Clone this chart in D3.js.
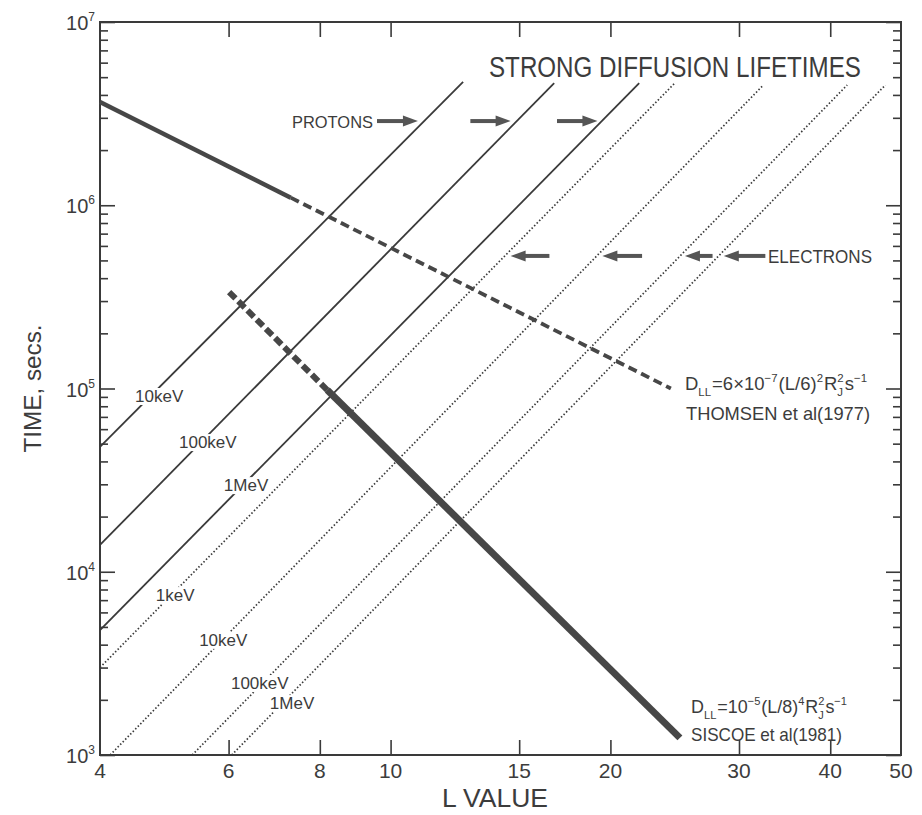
<!DOCTYPE html>
<html>
<head>
<meta charset="utf-8">
<script src="https://cdn.jsdelivr.net/npm/d3@7"></script>
<style>
  body { margin: 0; background: #fff; }
  text { font-family: "Liberation Sans", Arial, sans-serif; fill: #3c3c3c; }
</style>
</head>
<body>
<script>
// values
const lTicks = [6, 8, 10, 15, 20, 30, 40];
const lLabels = [4, 6, 8, 10, 15, 20, 30, 40, 50];
const timeExps = [3, 4, 5, 6, 7];

const protonNames = ['10keV', '100keV', '1MeV'];
const protonStart = [[4, 4.8e4], [4, 1.4e4], [4, 4.8e3]];
const protonEnd = [[12.57, 4.71e6], [16.75, 4.64e6], [21.9, 4.64e6]];
const protonLabelAt = [[4.82, 9.1e4], [5.62, 5.1e4], [6.34, 2.97e4]];

const electronNames = ['1keV', '10keV', '100keV', '1MeV'];
const electronStart = [[4, 3.0e3], [4.13, 1e3], [5.35, 1e3], [6.06, 1e3]];
const electronEnd = [[24.5, 4.64e6], [32.4, 4.53e6], [42.2, 4.53e6], [47.6, 4.53e6]];
const electronLabelAt = [[5.07, 7.46e3], [5.9, 4.25e3], [6.62, 2.47e3], [7.33, 1.92e3]];

const thomsenSolid = [[4, 3.66e6], [7.3, 1.10e6]];
const thomsenDashed = [[7.3, 1.10e6], [24.2, 1.0e5]];
const siscoeDashed = [[6.01, 3.36e5], [8.19, 9.8e4]];
const siscoeSolid = [[8.19, 9.8e4], [24.9, 1.24e3]];

// arrows: [tail L, head L]
const protonArrowTime = 2.88e6;
const protonArrows = [[9.58, 10.9], [12.86, 14.6], [16.9, 19.2]];
const electronArrowTime = 5.29e5;
const electronArrows = [[16.5, 14.6], [22.1, 19.5], [27.6, 25.3], [32.6, 28.6]];

const width = 922, height = 815;
const padLeft = 100, padRight = 901, padTop = 22, padBottom = 755;
const ink = '#3a3a3a';

let svg = d3.select('body').append('svg')
  .attr('width', width).attr('height', height);

let x = d3.scaleLog().domain([4, 50]).range([padLeft, padRight]);
let y = d3.scaleLog().domain([1e3, 1e7]).range([padBottom, padTop]);

let line = d3.line().x(d => x(d[0])).y(d => y(d[1]));

// ---- ticks (inward on all four sides)
let yAll = y.ticks();
let yMajor = yAll.filter(v => Math.abs(Math.log10(v) - Math.round(Math.log10(v))) < 1e-9);
let yMinor = yAll.filter(v => yMajor.indexOf(v) < 0);

let tickAxis = (axis, tr) => {
  let g = svg.append('g').attr('transform', tr).call(axis);
  g.select('.domain').remove();
  g.selectAll('line').attr('stroke', ink).attr('stroke-width', 1.6);
};
tickAxis(d3.axisBottom(x).tickValues(lTicks).tickSize(-15).tickFormat(''), `translate(0,${padBottom})`);
tickAxis(d3.axisTop(x).tickValues(lTicks).tickSize(-15).tickFormat(''), `translate(0,${padTop})`);
tickAxis(d3.axisLeft(y).tickValues(yMinor).tickSize(-8).tickFormat(''), `translate(${padLeft},0)`);
tickAxis(d3.axisLeft(y).tickValues(yMajor).tickSize(-15).tickFormat(''), `translate(${padLeft},0)`);
tickAxis(d3.axisRight(y).tickValues(yMinor).tickSize(-8).tickFormat(''), `translate(${padRight},0)`);
tickAxis(d3.axisRight(y).tickValues(yMajor).tickSize(-15).tickFormat(''), `translate(${padRight},0)`);

svg.append('rect')
  .attr('x', padLeft).attr('y', padTop)
  .attr('width', padRight - padLeft).attr('height', padBottom - padTop)
  .attr('fill', 'none').attr('stroke', ink).attr('stroke-width', 2);

// ---- tick labels
svg.append('g').selectAll('text')
  .data(lLabels).enter().append('text')
  .attr('x', d => x(d)).attr('y', padBottom + 23)
  .attr('text-anchor', 'middle')
  .style('font-size', '21px')
  .text(d => d);

let yl = svg.append('g').selectAll('text')
  .data(timeExps).enter().append('text')
  .attr('x', 95).attr('y', d => y(Math.pow(10, d)) + 8)
  .attr('text-anchor', 'end')
  .style('font-size', '20px');
yl.append('tspan').text('10');
yl.append('tspan').attr('dy', -9).style('font-size', '12px').text(d => d);

// axis titles
svg.append('text')
  .attr('transform', `translate(41,${(padTop + padBottom) / 2}) rotate(-90)`)
  .attr('text-anchor', 'middle')
  .style('font-size', '24px')
  .attr('textLength', 128).attr('lengthAdjust', 'spacingAndGlyphs')
  .text('TIME, secs.');
svg.append('text')
  .attr('x', 495).attr('y', 807)
  .attr('text-anchor', 'middle')
  .style('font-size', '25px')
  .attr('textLength', 106).attr('lengthAdjust', 'spacingAndGlyphs')
  .text('L VALUE');

// title (narrowed with a horizontal scale so its box matches the drawing)
let title = svg.append('text')
  .attr('x', 0).attr('y', 0)
  .style('font-size', '29px')
  .text('STRONG DIFFUSION LIFETIMES');
let tw = title.node().getComputedTextLength();
title.attr('transform', `translate(489,77) scale(${372 / tw},1)`);

// ---- strong diffusion lines
let plot = svg.append('g');
protonStart.forEach((s, i) => {
  plot.append('path').attr('d', line([s, protonEnd[i]]))
    .attr('fill', 'none').attr('stroke', ink).attr('stroke-width', 1.8);
});
electronStart.forEach((s, i) => {
  plot.append('path').attr('d', line([s, electronEnd[i]]))
    .attr('fill', 'none').attr('stroke', ink).attr('stroke-width', 1.7)
    .attr('stroke-dasharray', '1.5,2.1');
});

// energy labels sit on the lines with a white gap behind
let lineLabel = (name, at) => {
  let t = svg.append('text')
    .attr('x', x(at[0])).attr('y', y(at[1]) + 6)
    .attr('text-anchor', 'middle')
    .style('font-size', '17px')
    .text(name);
  let b = t.node().getBBox();
  svg.insert('rect', () => t.node())
    .attr('x', b.x - 2).attr('y', b.y + 1)
    .attr('width', b.width + 4).attr('height', b.height - 2)
    .attr('fill', '#fff');
};
protonNames.forEach((n, i) => lineLabel(n, protonLabelAt[i]));
electronNames.forEach((n, i) => lineLabel(n, electronLabelAt[i]));

// ---- diffusion coefficient curves
let thick = '#474747';
svg.append('path').attr('d', line(thomsenSolid))
  .attr('fill', 'none').attr('stroke', thick).attr('stroke-width', 4.5);
svg.append('path').attr('d', line(thomsenDashed))
  .attr('fill', 'none').attr('stroke', thick).attr('stroke-width', 3.8)
  .attr('stroke-dasharray', '9,5');
svg.append('path').attr('d', line(siscoeDashed))
  .attr('fill', 'none').attr('stroke', thick).attr('stroke-width', 6)
  .attr('stroke-dasharray', '9,4');
svg.append('path').attr('d', line(siscoeSolid))
  .attr('fill', 'none').attr('stroke', thick).attr('stroke-width', 7);

// ---- arrows
let arrow = (l0, l1, t) => {
  let x0 = x(l0), x1 = x(l1), yy = y(t);
  let dir = x1 > x0 ? 1 : -1;
  let hl = 15, hw = 5.5;
  svg.append('line')
    .attr('x1', x0).attr('y1', yy).attr('x2', x1 - dir * (hl - 1)).attr('y2', yy)
    .attr('stroke', '#555').attr('stroke-width', 4);
  svg.append('path')
    .attr('d', `M${x1},${yy}L${x1 - dir * hl},${yy - hw}L${x1 - dir * hl},${yy + hw}Z`)
    .attr('fill', '#555');
};
protonArrows.forEach(a => arrow(a[0], a[1], protonArrowTime));
electronArrows.forEach(a => arrow(a[0], a[1], electronArrowTime));

svg.append('text')
  .attr('x', 292).attr('y', 128)
  .style('font-size', '17px')
  .attr('textLength', 81).attr('lengthAdjust', 'spacingAndGlyphs')
  .text('PROTONS');
svg.append('text')
  .attr('x', 768).attr('y', 263)
  .style('font-size', '18px')
  .attr('textLength', 104).attr('lengthAdjust', 'spacingAndGlyphs')
  .text('ELECTRONS');

// ---- formula annotations (pieces laid out one after another)
let richText = (parts, x0, y0, size, target) => {
  let g = svg.append('g');
  let cx = 0;
  parts.forEach(p => {
    if (p.k === 'n') {
      let t = g.append('text').attr('x', cx).attr('y', 0).style('font-size', size + 'px').text(p.t);
      cx += t.node().getComputedTextLength();
    } else if (p.k === 'sup' || p.k === 'sub') {
      let t = g.append('text').attr('x', cx)
        .attr('y', p.k === 'sup' ? -size * 0.42 : size * 0.32)
        .style('font-size', (size * 0.62) + 'px').text(p.t);
      cx += t.node().getComputedTextLength() + 1;
    } else {
      let a = g.append('text').attr('x', cx).attr('y', -size * 0.42)
        .style('font-size', (size * 0.62) + 'px').text(p.t[0]);
      let b = g.append('text').attr('x', cx).attr('y', size * 0.32)
        .style('font-size', (size * 0.62) + 'px').text(p.t[1]);
      cx += Math.max(a.node().getComputedTextLength(), b.node().getComputedTextLength()) + 1;
    }
  });
  g.attr('transform', `translate(${x0},${y0}) scale(${target / cx},1)`);
};

richText([
  { k: 'n', t: 'D' }, { k: 'sub', t: 'LL' }, { k: 'n', t: '=6×10' }, { k: 'sup', t: '−7' },
  { k: 'n', t: '(L/6)' }, { k: 'sup', t: '2' }, { k: 'n', t: ' R' }, { k: 'ss', t: ['2', 'J'] },
  { k: 'n', t: ' s' }, { k: 'sup', t: '−1' }
], 685, 390, 19, 183);
svg.append('text')
  .attr('x', 686).attr('y', 420)
  .style('font-size', '19px')
  .attr('textLength', 184).attr('lengthAdjust', 'spacingAndGlyphs')
  .text('THOMSEN et al(1977)');

richText([
  { k: 'n', t: 'D' }, { k: 'sub', t: 'LL' }, { k: 'n', t: '=10' }, { k: 'sup', t: '−5' },
  { k: 'n', t: '(L/8)' }, { k: 'sup', t: '4' }, { k: 'n', t: ' R' }, { k: 'ss', t: ['2', 'J'] },
  { k: 'n', t: ' s' }, { k: 'sup', t: '−1' }
], 691, 713, 19, 157);
svg.append('text')
  .attr('x', 691).attr('y', 741)
  .style('font-size', '19px')
  .attr('textLength', 151).attr('lengthAdjust', 'spacingAndGlyphs')
  .text('SISCOE et al(1981)');
</script>
</body>
</html>
